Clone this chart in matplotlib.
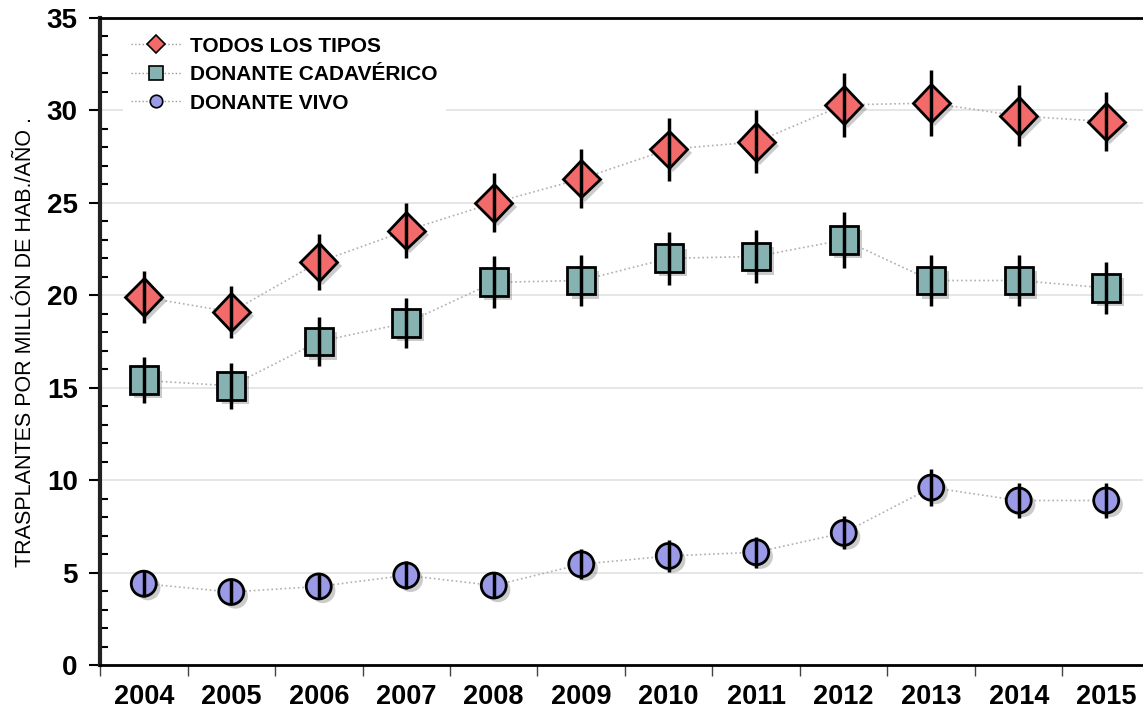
import matplotlib
matplotlib.use('Agg')
import matplotlib.pyplot as plt
import matplotlib.patheffects as pe
from matplotlib.lines import Line2D
from matplotlib.ticker import MultipleLocator
import numpy as np

plt.rcParams['font.family'] = ['Liberation Sans', 'DejaVu Sans']

# Data
years = ['2004', '2005', '2006', '2007', '2008', '2009', '2010', '2011', '2012', '2013', '2014', '2015']
todos = [19.9, 19.1, 21.8, 23.5, 25.0, 26.3, 27.9, 28.3, 30.3, 30.4, 29.7, 29.4]
todos_err = [1.4, 1.4, 1.5, 1.5, 1.6, 1.6, 1.7, 1.7, 1.75, 1.8, 1.65, 1.6]
cadaverico = [15.4, 15.1, 17.5, 18.5, 20.7, 20.8, 22.0, 22.1, 23.0, 20.8, 20.8, 20.4]
cadaverico_err = [1.25, 1.25, 1.3, 1.35, 1.4, 1.4, 1.45, 1.45, 1.5, 1.4, 1.4, 1.4]
vivo = [4.4, 3.95, 4.25, 4.85, 4.3, 5.45, 5.9, 6.1, 7.15, 9.6, 8.9, 8.9]
vivo_err = [0.7, 0.65, 0.7, 0.75, 0.7, 0.8, 0.85, 0.85, 0.9, 1.0, 0.95, 0.95]
labels = ['TODOS LOS TIPOS', 'DONANTE CADAVÉRICO', 'DONANTE VIVO']

x = np.arange(len(years))

series = [
    (todos, todos_err, 'D', 19, '#f26a6a'),
    (cadaverico, cadaverico_err, 's', 20, '#86b2b2'),
    (vivo, vivo_err, 'o', 18, '#9a9ae6'),
]

fig = plt.figure(figsize=(11.43, 7.12), dpi=100)
ax = fig.add_axes([0.0875, 0.066, 0.9186, 0.9087])

shadow = [pe.SimplePatchShadow(offset=(3, -3), shadow_rgbFace='#555555', alpha=0.3), pe.Normal()]

for vals, errs, mk, ms, col in series:
    ax.plot(x, vals, linestyle=':', color='#b0b0b0', linewidth=1.2, zorder=3)
    ax.plot(x, vals, linestyle='none', marker=mk, markersize=ms, markerfacecolor=col,
            markeredgecolor='black', markeredgewidth=2, zorder=4, path_effects=shadow)
    ax.errorbar(x, vals, yerr=errs, fmt='none', ecolor='black', elinewidth=2.5, capsize=0, zorder=5)

# Axes and ticks
ax.set_xlim(-0.5, len(years) - 0.5)
ax.set_ylim(0, 35)
ax.set_xticks(x)
ax.set_xticklabels(years, fontsize=19.5, fontweight='bold')
ax.set_xticks(np.arange(-0.5, len(years)), minor=True)
ax.tick_params(axis='x', which='major', length=0, pad=14)
ax.tick_params(axis='x', which='minor', length=8, width=1, color='#444444', direction='out')
ax.yaxis.set_major_locator(MultipleLocator(5))
ax.yaxis.set_minor_locator(MultipleLocator(1))
ax.tick_params(axis='y', which='major', length=8, width=1.5, labelsize=20, pad=8)
ax.tick_params(axis='y', which='minor', length=6, width=1.5, direction='in')
for t in ax.get_yticklabels():
    t.set_fontweight('bold')
ax.grid(axis='y', which='major', color='#e2e2e2', linewidth=1.2, zorder=0)
ax.set_axisbelow(True)

ax.spines['left'].set_linewidth(3)
ax.spines['left'].set_color('#222222')
ax.spines['bottom'].set_linewidth(2)
ax.spines['top'].set_linewidth(2)
ax.spines['right'].set_visible(False)

ax.set_ylabel('TRASPLANTES POR MILLÓN DE HAB./AÑO .', fontsize=15.5, labelpad=8)

# Legend
handles = [Line2D([0], [0], linestyle=':', color='#999999', linewidth=1, marker=mk,
                  markersize=ms * 0.5, markerfacecolor=col, markeredgecolor='black', markeredgewidth=1.2)
           for _, _, mk, ms, col in series]
leg = ax.legend(handles, labels, loc='upper left', bbox_to_anchor=(0.012, 1.0), frameon=True,
                prop={'weight': 'bold', 'size': 15}, handlelength=2.4, labelspacing=0.45,
                handletextpad=0.4, borderpad=0.4, fancybox=False)
leg.get_frame().set_facecolor('white')
leg.get_frame().set_edgecolor('none')
leg.get_frame().set_alpha(1)

plt.savefig('out.png', dpi=100)
